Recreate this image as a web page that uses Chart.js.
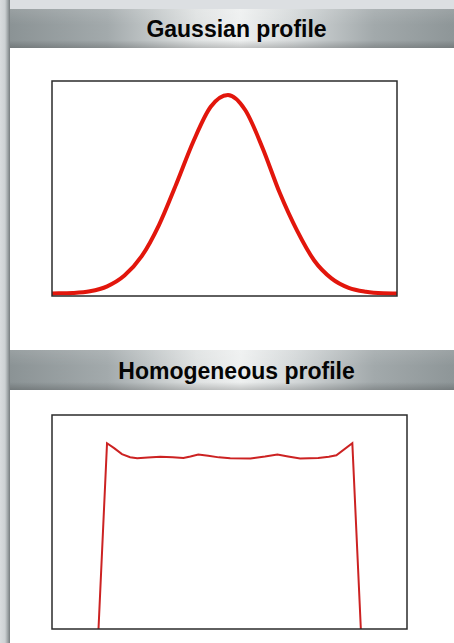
<!DOCTYPE html>
<html>
<head>
<meta charset="utf-8">
<script src="https://cdn.jsdelivr.net/npm/chart.js@4.4.1/dist/chart.umd.min.js"></script>
<style>
  html, body { margin: 0; padding: 0; }
  body { width: 454px; height: 643px; overflow: hidden; position: relative; background: #dcdfe2; font-family: "Liberation Sans", Arial, sans-serif; }
  .strip { position: absolute; left: 0; top: 0; width: 10px; height: 643px;
    background: linear-gradient(to right, #d9dcde 0%, #cdd1d3 50%, #9aa0a2 80%, #767c7e 100%); }
  .panel { position: absolute; left: 10px; width: 444px; background: #fff; }
  .head { position: absolute; left: 10px; width: 444px;
    background:
      linear-gradient(to bottom, rgba(255,255,255,0.12) 0%, rgba(0,0,0,0) 40%, rgba(0,0,0,0) 80%, rgba(0,0,0,0.18) 100%),
      linear-gradient(to right, #8b9395 0%, #a3aaac 22%, #dfe2e2 42%, #eef0f0 52%, #d4d8d9 64%, #a2a9ab 82%, #8e9698 100%);
    text-align: center; font-weight: bold; font-size: 23px; color: #050505; box-sizing: border-box; padding-left: 9px; }
  .box { position: absolute; }
</style>
</head>
<body>
<div class="strip"></div>
<div class="panel" style="top:48px;height:302px"></div>
<div class="panel" style="top:390px;height:253px"></div>
<div class="head" style="top:9px;height:39px;line-height:41px">Gaussian profile</div>
<div class="head" style="top:350px;height:40px;line-height:42px">Homogeneous profile</div>
<div class="box" style="left:47px;top:76px;width:355px;height:225px"><canvas id="gauss"></canvas></div>
<div class="box" style="left:47px;top:410px;width:365px;height:224px"><canvas id="homog"></canvas></div>
<script>
// Gaussian profile (x in 0..100 across the box, y in 0..1)
const gaussX = [0, 6, 11, 16, 21, 26, 31, 36, 41, 46, 51, 56, 61, 66, 71, 76, 81, 86, 91, 96, 100];
const gaussY = [0.012, 0.014, 0.022, 0.045, 0.095, 0.185, 0.33, 0.52, 0.72, 0.88, 0.935, 0.865, 0.69, 0.48, 0.305, 0.165, 0.082, 0.038, 0.02, 0.013, 0.012];

// Homogeneous (top-hat) profile
const homX = [13.1, 15.5, 17.5, 19.7, 22.0, 24.0, 27.0, 30.5, 34.0, 37.0, 39.0, 41.2, 44.0, 47.0, 50.2, 55.9, 60.0, 63.5, 66.5, 69.9, 75.0, 78.0, 80.1, 84.6, 87.0];
const homY = [0, 0.868, 0.845, 0.817, 0.803, 0.798, 0.801, 0.805, 0.802, 0.799, 0.806, 0.815, 0.810, 0.802, 0.798, 0.797, 0.806, 0.815, 0.806, 0.797, 0.799, 0.805, 0.812, 0.868, 0];

const boxBorder = {
  id: 'boxBorder',
  afterDraw(chart) {
    const a = chart.chartArea, c = chart.ctx;
    c.save();
    c.strokeStyle = '#2b2b2b';
    c.lineWidth = 1.5;
    c.strokeRect(a.left, a.top, a.right - a.left, a.bottom - a.top);
    c.restore();
  }
};

function makeChart(id, xs, ys, color, width, opts) {
  const pts = xs.map((x, i) => ({ x: x, y: ys[i] }));
  return new Chart(document.getElementById(id), {
    type: 'line',
    data: { datasets: [Object.assign({
      data: pts,
      borderColor: color,
      borderWidth: width,
      pointRadius: 0,
      fill: false
    }, opts)] },
    options: {
      responsive: true,
      maintainAspectRatio: false,
      animation: false,
      layout: { padding: 5 },
      plugins: { legend: { display: false }, tooltip: { enabled: false } },
      scales: {
        x: { type: 'linear', min: 0, max: 100, display: false },
        y: { min: 0, max: 1, display: false }
      }
    },
    plugins: [boxBorder]
  });
}

makeChart('gauss', gaussX, gaussY, 'rgb(226,22,12)', 4, { cubicInterpolationMode: 'monotone' });
makeChart('homog', homX, homY, 'rgb(204,34,34)', 2, { tension: 0 });
</script>
</body>
</html>
